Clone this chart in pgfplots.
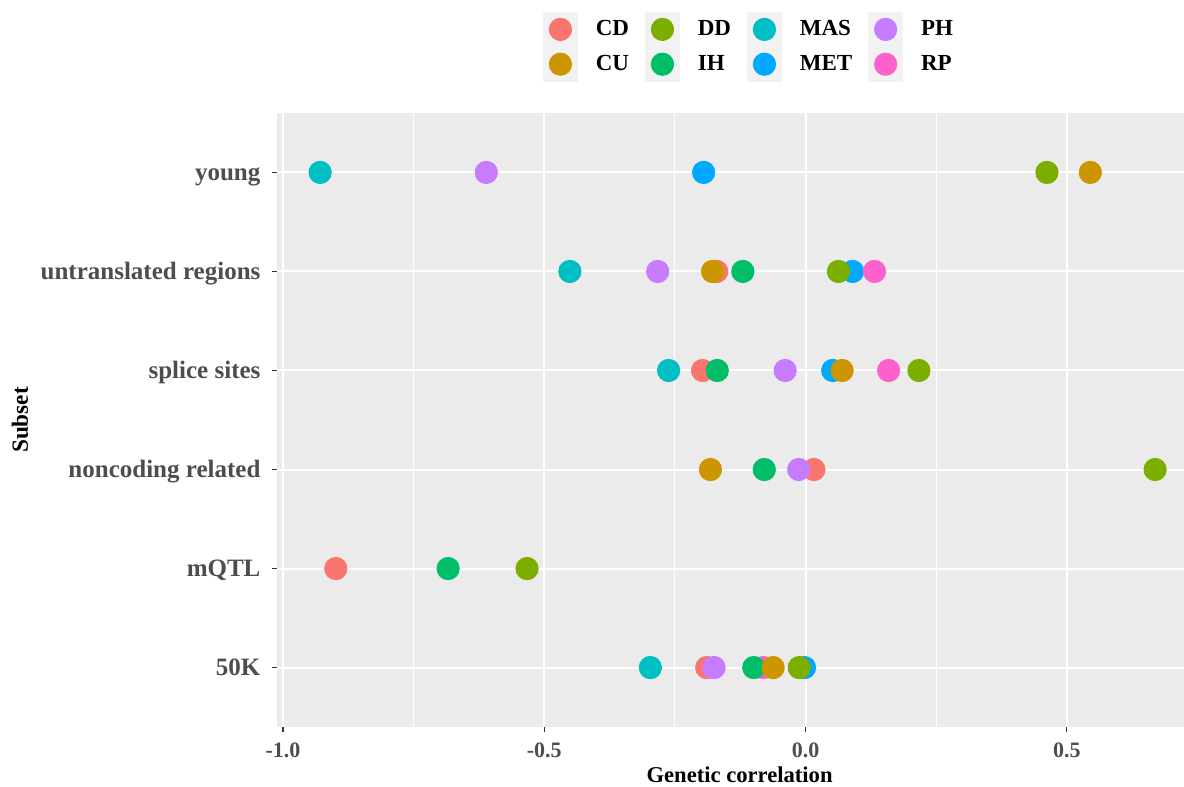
\documentclass[border=0pt]{standalone}
\usepackage{fontspec}
\setmainfont{Liberation Serif}
\usepackage{pgfplots}
\pgfplotsset{compat=1.18}
\definecolor{cCD}{HTML}{F8766D}
\definecolor{cCU}{HTML}{CD9600}
\definecolor{cDD}{HTML}{7CAE00}
\definecolor{cIH}{HTML}{00BE67}
\definecolor{cMAS}{HTML}{00BFC4}
\definecolor{cMET}{HTML}{00A9FF}
\definecolor{cPH}{HTML}{C77CFF}
\definecolor{cRP}{HTML}{FF61CC}
\definecolor{panel}{HTML}{EBEBEB}
\definecolor{keybg}{HTML}{F2F2F2}
\definecolor{tickc}{HTML}{4D4D4D}
\definecolor{tickm}{HTML}{333333}
\pgfplotsset{
  keyimg/.style={legend image code/.code={\fill[keybg] (0pt,-8.5pt) rectangle (17pt,8.5pt); \fill[#1] (8.5pt,0pt) circle (5.6pt);}},
  mk/.style={only marks, mark=*, mark size=5.6pt, color=#1, mark options={draw=none, fill=#1}, forget plot},
}
\begin{document}
\begin{tikzpicture}
\useasboundingbox (0,0) rectangle (592pt,393.5pt);
\begin{axis}[
  at={(138.5pt,30pt)}, anchor=south west,
  scale only axis, width=453.5pt, height=307pt,
  xmin=-1.0115, xmax=0.7243, ymin=0.4, ymax=6.6,
  axis background/.style={fill=panel},
  axis line style={draw=none},
  tick pos=left, tick align=outside,
  major tick length=2.6pt, minor tick length=0pt,
  every tick/.style={tickm, line width=0.55pt},
  xtick={-1,-0.5,0,0.5}, xticklabels={-1.0,-0.5,0.0,0.5},
  minor xtick={-0.75,-0.25,0.25},
  ytick={1,2,3,4,5,6},
  yticklabels={50K,mQTL,noncoding related,splice sites,untranslated regions,young},
  grid=both,
  major grid style={white, line width=1pt},
  minor grid style={white, line width=0.5pt},
  xticklabel style={font=\bfseries\fontsize{11}{13}\selectfont, text=tickc, inner sep=0pt, anchor=north, yshift=-5pt},
  yticklabel style={font=\bfseries\fontsize{12.5}{15}\selectfont, text=tickc, inner sep=0pt, anchor=base east, xshift=-5.5pt, yshift=-4.1pt},
  xlabel={Genetic correlation}, ylabel={Subset},
  xlabel style={font=\bfseries\fontsize{11.3}{13}\selectfont, at={(axis description cs:0.51,-0.0896)}, anchor=base, inner sep=0pt},
  ylabel style={font=\bfseries\fontsize{11.6}{13}\selectfont, at={(axis description cs:-0.2834,0.5)}, anchor=center, inner sep=0pt},
  legend columns=4,
  legend style={at={(axis description cs:0.2933,1.1645)}, anchor=north west, draw=none, fill=none, inner sep=0pt, outer sep=0pt,
    nodes={inner sep=0pt, font=\bfseries\fontsize{11.5}{13}\selectfont, anchor=west},
    row sep=0pt,
    /tikz/every even column/.append style={column sep=8pt},
    /tikz/every odd column/.append style={column sep=9pt}},
  legend cell align=left,
]
\addlegendimage{keyimg=cCD}\addlegendentry{CD}
\addlegendimage{keyimg=cDD}\addlegendentry{DD}
\addlegendimage{keyimg=cMAS}\addlegendentry{MAS}
\addlegendimage{keyimg=cPH}\addlegendentry{PH}
\addlegendimage{keyimg=cCU}\addlegendentry{CU}
\addlegendimage{keyimg=cIH}\addlegendentry{IH}
\addlegendimage{keyimg=cMET}\addlegendentry{MET}
\addlegendimage{keyimg=cRP}\addlegendentry{RP}
% CD
\addplot[mk=cCD] coordinates {(-0.170,5) (-0.197,4) (0.016,3) (-0.899,2) (-0.189,1)};
% MET
\addplot[mk=cMET] coordinates {(-0.195,6) (0.090,5) (0.052,4) (-0.002,1)};
% RP
\addplot[mk=cRP] coordinates {(0.132,5) (0.159,4) (-0.081,1)};
% MAS
\addplot[mk=cMAS] coordinates {(-0.929,6) (-0.451,5) (-0.262,4) (-0.297,1)};
% IH
\addplot[mk=cIH] coordinates {(-0.120,5) (-0.169,4) (-0.079,3) (-0.684,2) (-0.099,1)};
% CU
\addplot[mk=cCU] coordinates {(0.545,6) (-0.178,5) (0.070,4) (-0.182,3) (-0.062,1)};
% DD
\addplot[mk=cDD] coordinates {(0.462,6) (0.063,5) (0.217,4) (0.669,3) (-0.533,2) (-0.012,1)};
% PH
\addplot[mk=cPH] coordinates {(-0.611,6) (-0.283,5) (-0.039,4) (-0.013,3) (-0.175,1)};
\end{axis}
\end{tikzpicture}
\end{document}
